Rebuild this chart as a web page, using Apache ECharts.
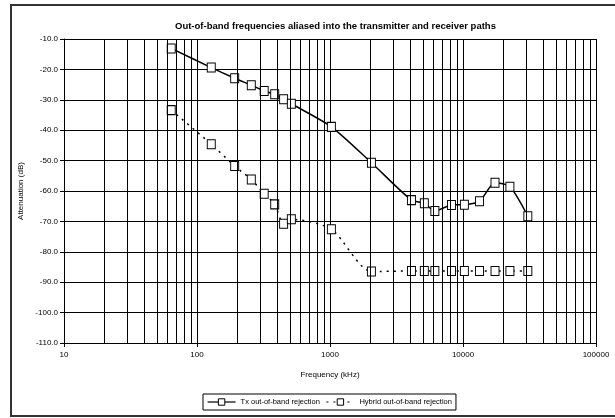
<!DOCTYPE html>
<html><head><meta charset="utf-8">
<script src="https://cdn.jsdelivr.net/npm/echarts@6/dist/echarts.min.js"></script>
<style>html,body{margin:0;padding:0;background:#fff}#c{width:615px;height:418px}</style>
</head><body><div id="c"></div>
<script>
// Data
const freqs = [64,128,192,256,320,384,448,512,1024,2048,4096,5120,6144,8192,10240,13312,17408,22528,30720];
const txRejection = [-13.1,-19.4,-22.9,-25.2,-27.1,-28.2,-29.8,-31.3,-38.9,-50.7,-63.0,-64.0,-66.6,-64.6,-64.5,-63.4,-57.3,-58.6,-68.3];
const hybridRejection = [-33.4,-44.6,-51.8,-56.2,-60.9,-64.4,-70.8,-69.3,-72.6,-86.5,-86.3,-86.3,-86.3,-86.3,-86.3,-86.3,-86.3,-86.3,-86.3];
const seriesNames = ['Tx out-of-band rejection','Hybrid out-of-band rejection'];
const xTickLabels = ['10','100','1000','10000','100000'];
const yMin = -110, yMax = -10, yStep = 10;
const decades = [10,100,1000,10000];
const minorMultipliers = [2,3,4,5,6,7,8,9];

const FONT = "'Liberation Sans Narrow','Liberation Sans',Arial,sans-serif";
const minorLines = [];
decades.forEach(d => minorMultipliers.forEach(m => minorLines.push({xAxis: d*m})));

const chart = echarts.init(document.getElementById('c'), null, {renderer:'canvas'});
chart.setOption({
  animation:false,
  backgroundColor:'#fff',
  title:{text:'Out-of-band frequencies aliased into the transmitter and receiver paths',left:170,top:16,
    textStyle:{fontFamily:FONT,fontSize:9.5,fontWeight:'bold',color:'#000'}},
  graphic:[{type:'rect',shape:{x:11,y:5,width:620,height:411},style:{fill:'none',stroke:'#333',lineWidth:2},silent:true,z:100}],
  grid:{left:64,right:19,top:39,bottom:75},
  legend:{data:seriesNames,bottom:8,left:203,itemWidth:28,itemHeight:8,itemGap:6,
    borderColor:'#000',borderWidth:1,borderRadius:0,padding:[4,4],
    itemStyle:{borderWidth:1,borderColor:'#000',color:'#fff'},
    lineStyle:{width:1.2},
    textStyle:{fontFamily:FONT,fontSize:7.5,color:'#000'}},
  xAxis:{type:'log',logBase:10,min:10,max:100000,
    name:'Frequency (kHz)',nameLocation:'middle',nameGap:28,
    nameTextStyle:{fontFamily:FONT,fontSize:8,color:'#000'},
    axisLine:{lineStyle:{color:'#000',width:1}},
    axisTick:{show:true,length:4,lineStyle:{color:'#000'}},
    axisLabel:{fontFamily:FONT,fontSize:8,color:'#000',margin:8,
      formatter:v=>{const i=Math.round(Math.log10(v))-1;return xTickLabels[i]!==undefined?xTickLabels[i]:String(v);}},
    splitLine:{show:true,lineStyle:{color:'#000',width:1}}
  },
  yAxis:{type:'value',min:yMin,max:yMax,interval:yStep,
    name:'Attenuation (dB)',nameLocation:'middle',nameGap:33,
    nameTextStyle:{fontFamily:FONT,fontSize:8,color:'#000'},
    axisLine:{show:true,lineStyle:{color:'#000',width:1}},
    axisTick:{show:true,length:4,lineStyle:{color:'#000'}},
    axisLabel:{fontFamily:FONT,fontSize:8,color:'#000',margin:6,formatter:v=>v.toFixed(1)},
    splitLine:{show:true,lineStyle:{color:'#000',width:1}}
  },
  series:[
    {name:'_grid',type:'line',data:[],z:1,silent:true,
      markLine:{silent:true,symbol:['none','none'],label:{show:false},animation:false,
        lineStyle:{color:'#000',width:1,type:'solid'},emphasis:{disabled:true},data:minorLines}},
    {name:seriesNames[0],type:'line',z:3,smooth:0.25,
      data:freqs.map((f,i)=>[f,txRejection[i]]),
      symbol:'rect',symbolSize:[8,9],
      itemStyle:{color:'#fff',borderColor:'#000',borderWidth:1},
      lineStyle:{color:'#000',width:1.5,type:'solid'}},
    {name:seriesNames[1],type:'line',z:3,smooth:0.25,
      data:freqs.map((f,i)=>[f,hybridRejection[i]]),
      symbol:'rect',symbolSize:[8,9],
      itemStyle:{color:'#fff',borderColor:'#000',borderWidth:1},
      lineStyle:{color:'#000',width:1.5,type:[2,5]}}
  ]
});
</script></body></html>
